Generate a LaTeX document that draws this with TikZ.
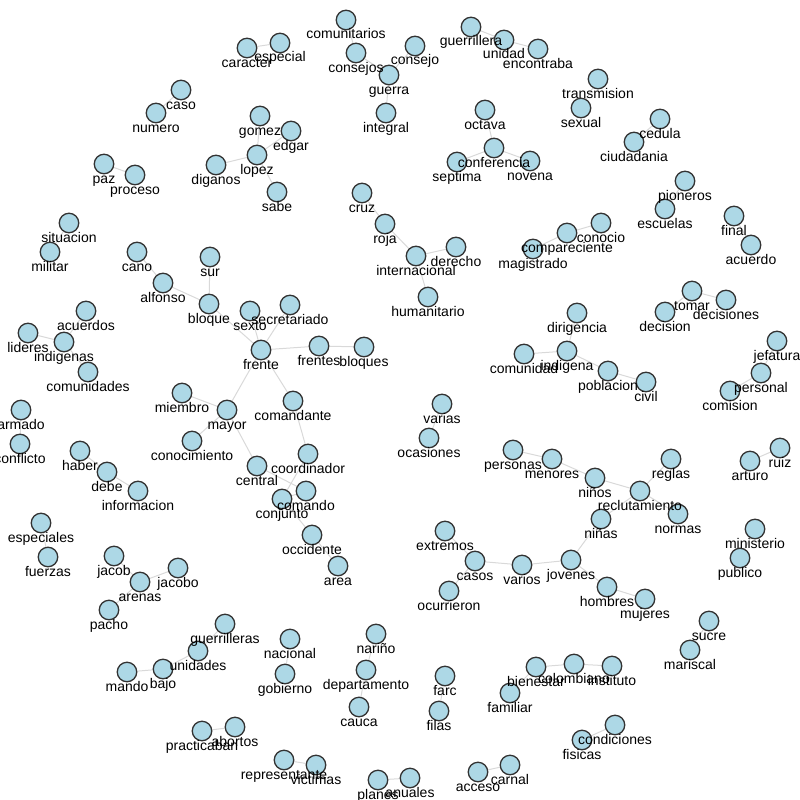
\documentclass[tikz,border=0pt]{standalone}
\usepackage{fontspec}
\setmainfont{Liberation Sans}
\definecolor{nodeblue}{HTML}{ADD8E6}
\definecolor{nodeline}{HTML}{333333}
\definecolor{edgegray}{HTML}{D9D9D9}
\pgfdeclarelayer{bg}
\pgfsetlayers{bg,main}
\begin{document}
\begin{tikzpicture}[x=1pt,y=-1pt,
  vtx/.style={circle,draw=nodeline,line width=1.3pt,fill=nodeblue,minimum size=19.5pt,inner sep=0pt},
  lbl/.style={anchor=base,font=\fontsize{14}{14}\selectfont,inner sep=0pt,text=black},
  edgeline/.style={draw=edgegray,line width=1pt}]
\useasboundingbox (0,0) rectangle (800,800);
\def\nodelist{comunitarios/346/20/comunitarios,especial/280/43/especial,caracter/247/48/caracter,consejos/356/53/consejos,consejo/415/46/consejo,guerra/389/75/guerra,integral/386/113/integral,guerrillera/471/27/guerrillera,unidad/504/40/unidad,encontraba/538/49/encontraba,transmision/598/79/transmision,sexual/581/108/sexual,cedula/660/119/cedula,ciudadania/634/142/ciudadania,caso/181/90/caso,numero/156/113/numero,gomez/260/116/gomez,edgar/291/131/edgar,lopez/257/155/lopez,diganos/216/165/diganos,sabe/277/192/sabe,paz/104/164/paz,proceso/135/175/proceso,octava/485/110/octava,conferencia/494/148/conferencia,septima/457/162/septima,novena/530/161/novena,pioneros/685/181/pioneros,escuelas/665/209/escuelas,final/734/216/final,acuerdo/751/245/acuerdo,situacion/69/223/situacion,militar/50/252/militar,cruz/362/193/cruz,roja/385/224/roja,derecho/456/247/derecho,internacional/416/256/internacional,conocio/601/223/conocio,compareciente/567/233/compareciente,magistrado/533/249/magistrado,humanitario/428/297/humanitario,cano/137/252/cano,sur/210/257/sur,alfonso/163/283/alfonso,bloque/209/304/bloque,sexto/250/311/sexto,secretariado/290/305/secretariado,frente/261/350/frente,frentes/319/346/frentes,bloques/364/347/bloques,acuerdos/86/311/acuerdos,lideres/28/333/lideres,indigenas/64/342/indigenas,comunidades/88/372/comunidades,dirigencia/577/313/dirigencia,tomar/692/291/tomar,decisiones/726/300/decisiones,decision/665/312/decision,comunidad/524/354/comunidad,indigena/567/351/indigena,poblacion/608/371/poblacion,civil/646/382/civil,jefatura/777/341/jefatura,personal/761/373/personal,comision/730/391/comision,miembro/182/393/miembro,mayor/227/410/mayor,comandante/293/401/comandante,varias/442/404/varias,ocasiones/429/438/ocasiones,armado/21/410/armado,conflicto/20/444/conflicto,conocimiento/192/441/conocimiento,coordinador/308/454/coordinador,central/257/466/central,comando/306/491/comando,conjunto/282/499/conjunto,haber/80/451/haber,debe/107/472/debe,informacion/138/491/informacion,personas/513/450/personas,menores/552/459/menores,ninos/595/478/niños,reglas/671/459/reglas,reclutamiento/640/491/reclutamiento,normas/678/514/normas,ninas/601/519/niñas,arturo/750/461/arturo,ruiz/780/448/ruiz,occidente/312/535/occidente,area/338/566/area,extremos/445/531/extremos,casos/475/561/casos,varios/522/565/varios,jovenes/571/560/jovenes,ocurrieron/449/591/ocurrieron,especiales/41/523/especiales,fuerzas/48/557/fuerzas,jacob/114/556/jacob,arenas/140/582/arenas,jacobo/178/568/jacobo,pacho/109/610/pacho,ministerio/755/529/ministerio,publico/740/558/publico,hombres/607/587/hombres,mujeres/645/599/mujeres,sucre/709/621/sucre,mariscal/690/650/mariscal,guerrilleras/225/624/guerrilleras,unidades/198/651/unidades,mando/127/672/mando,bajo/163/669/bajo,nacional/290/639/nacional,gobierno/285/674/gobierno,narino/376/634/nariño,departamento/366/670/departamento,cauca/359/707/cauca,farc/445/676/farc,filas/439/711/filas,bienestar/536/667/bienestar,colombiano/574/664/colombiano,instituto/612/666/instituto,familiar/510/693/familiar,condiciones/615/725/condiciones,fisicas/582/740/fisicas,practicaban/202/731/practicaban,abortos/235/727/abortos,representante/284/760/representante,victimas/316/765/victimas,planes/378/780/planes,anuales/410/778/anuales,acceso/478/772/acceso,carnal/510/765/carnal}
\foreach \n/\x/\y/\t in \nodelist {\node[vtx] (\n) at (\x,\y) {};}
\begin{pgfonlayer}{bg}
\foreach \a/\b in {comunitarios/consejos,consejos/guerra,consejo/guerra,guerra/integral,caracter/especial,guerrillera/unidad,unidad/encontraba,transmision/sexual,cedula/ciudadania,caso/numero,gomez/lopez,edgar/lopez,diganos/lopez,lopez/sabe,paz/proceso,octava/conferencia,septima/conferencia,conferencia/novena,pioneros/escuelas,final/acuerdo,situacion/militar,cruz/roja,roja/internacional,internacional/derecho,internacional/humanitario,magistrado/compareciente,compareciente/conocio,cano/alfonso,alfonso/bloque,sur/bloque,bloque/frente,sexto/frente,secretariado/frente,frente/frentes,frentes/bloques,frente/mayor,frente/comandante,acuerdos/indigenas,lideres/indigenas,indigenas/comunidades,dirigencia/indigena,comunidad/indigena,indigena/poblacion,poblacion/civil,tomar/decisiones,tomar/decision,jefatura/personal,personal/comision,miembro/mayor,mayor/conocimiento,mayor/central,comandante/coordinador,coordinador/conjunto,central/comando,comando/conjunto,conjunto/occidente,occidente/area,varias/ocasiones,armado/conflicto,haber/debe,debe/informacion,personas/menores,menores/ninos,ninos/reclutamiento,reclutamiento/reglas,reclutamiento/normas,ninas/reclutamiento,ninas/jovenes,arturo/ruiz,extremos/casos,casos/varios,casos/ocurrieron,varios/jovenes,jovenes/hombres,hombres/mujeres,especiales/fuerzas,jacob/arenas,arenas/jacobo,arenas/pacho,ministerio/publico,sucre/mariscal,guerrilleras/unidades,unidades/bajo,mando/bajo,nacional/gobierno,narino/departamento,departamento/cauca,farc/filas,bienestar/familiar,bienestar/colombiano,colombiano/instituto,condiciones/fisicas,practicaban/abortos,representante/victimas,planes/anuales,acceso/carnal}
  {\draw[edgeline] (\a) -- (\b);}
\end{pgfonlayer}
\foreach \n/\x/\y/\t in \nodelist {\node[lbl] (\n-l) at ([yshift=-19pt]\n.center) {\t};}
\end{tikzpicture}
\end{document}
